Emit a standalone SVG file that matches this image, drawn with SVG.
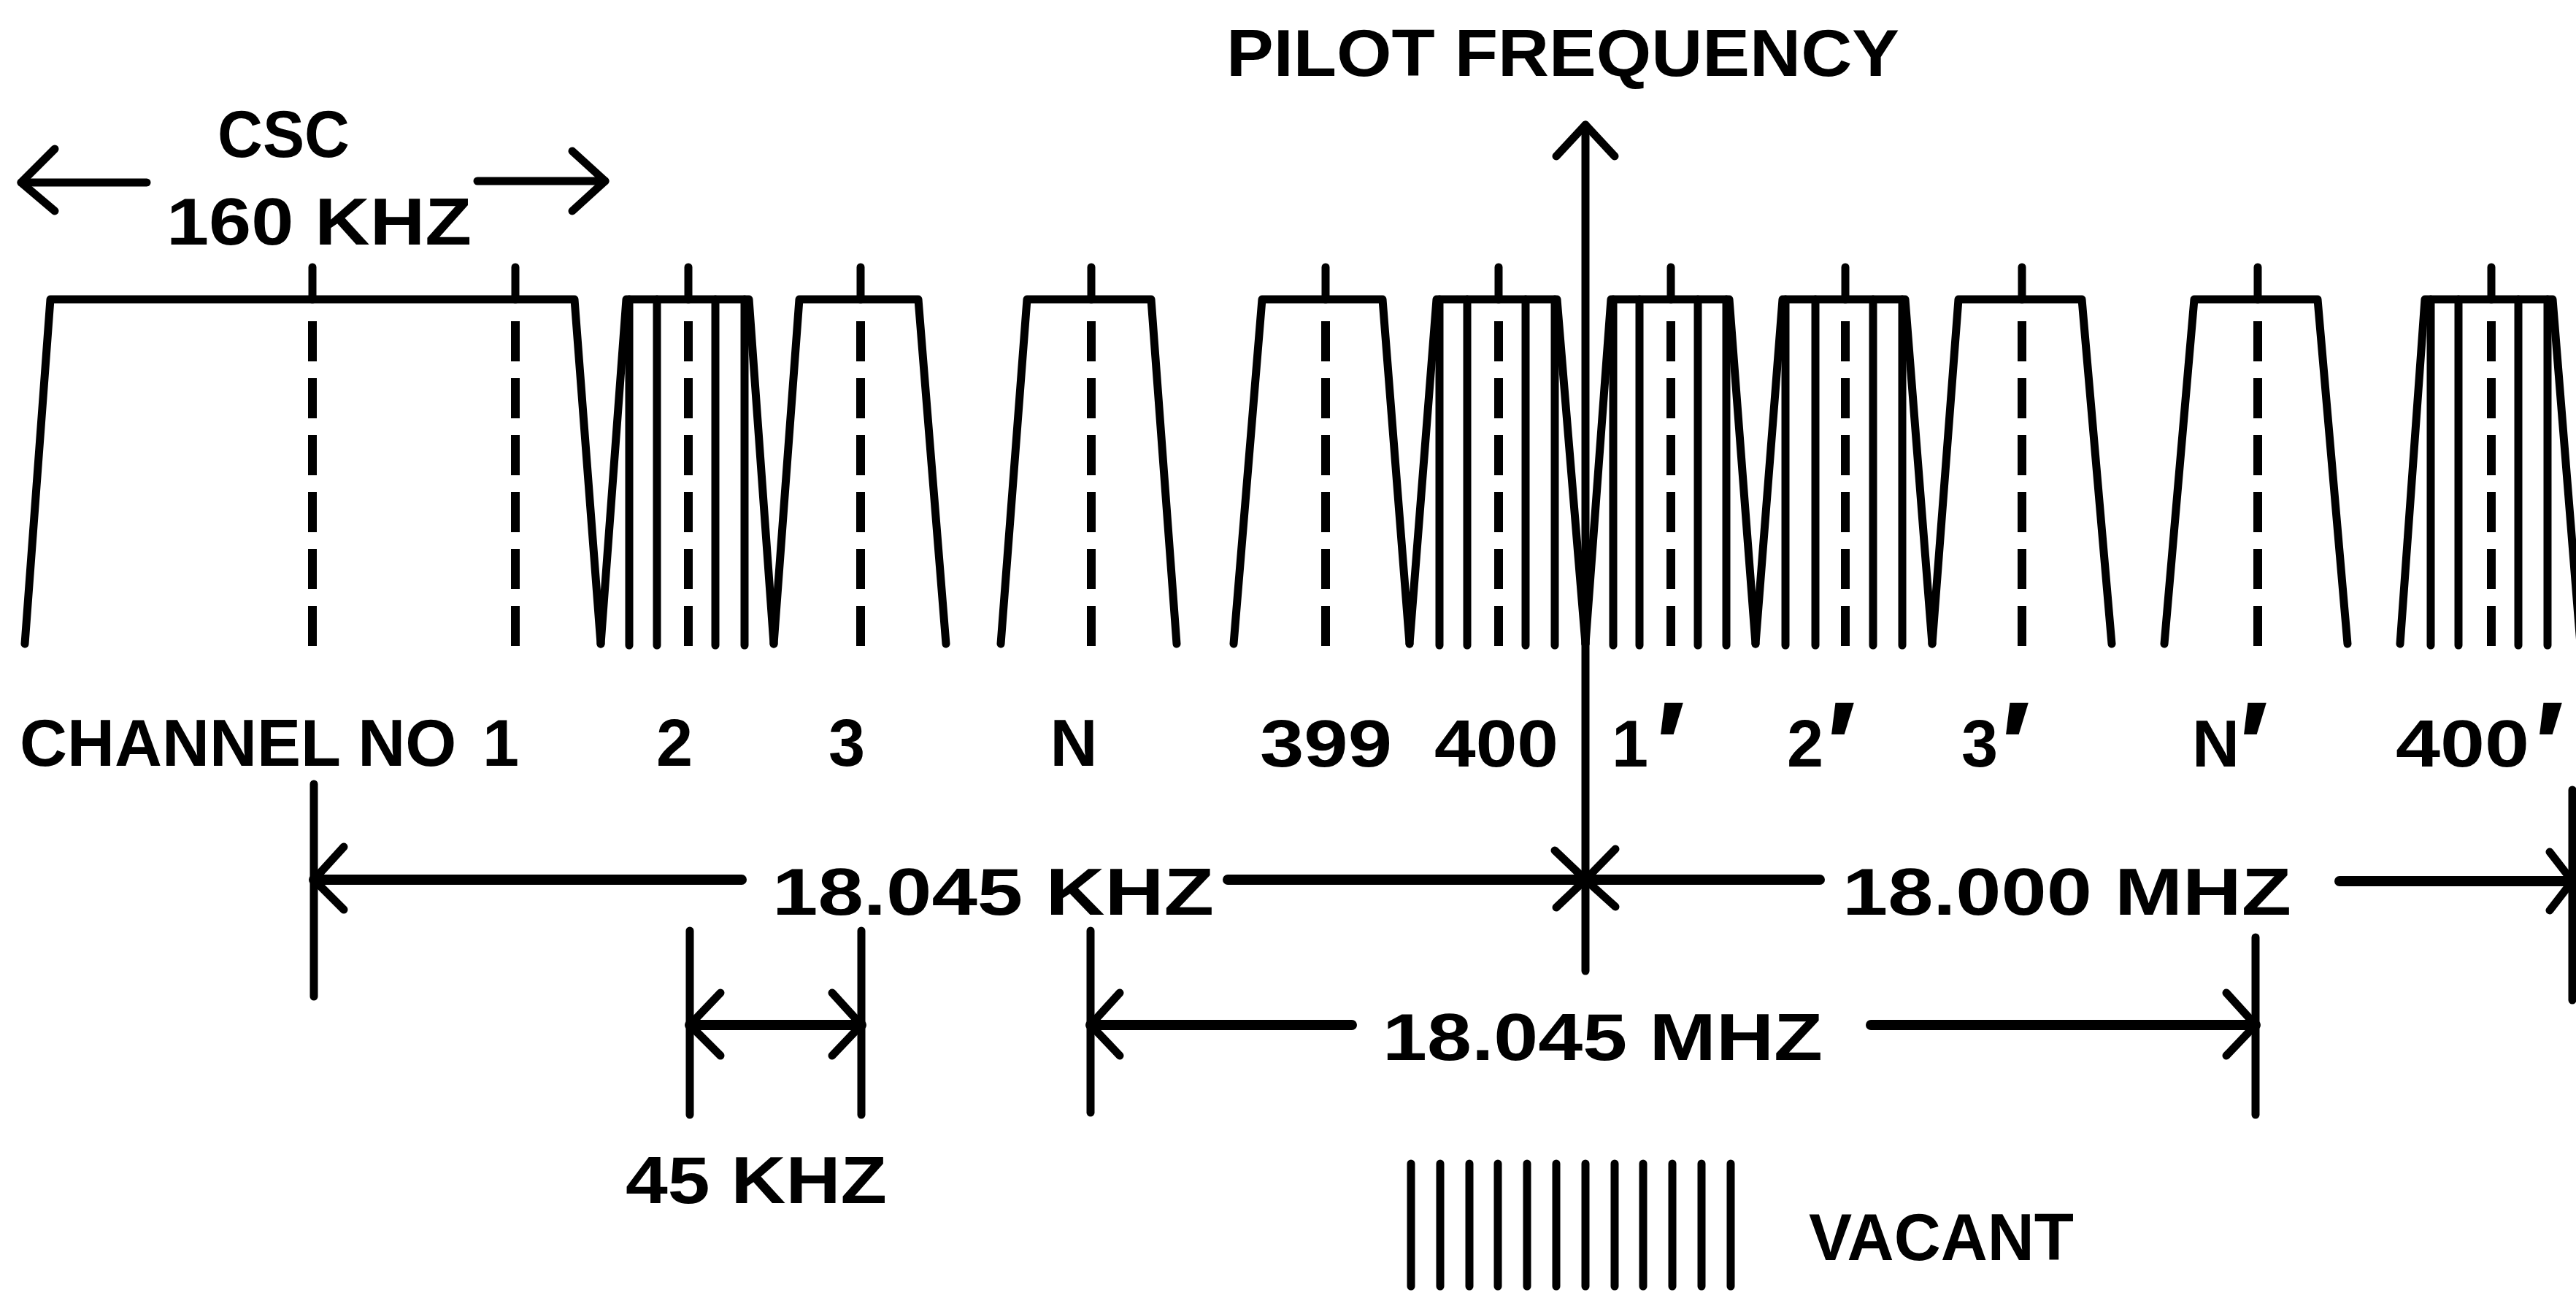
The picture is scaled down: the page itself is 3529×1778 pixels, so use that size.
<svg xmlns="http://www.w3.org/2000/svg" width="3529" height="1778" viewBox="0 0 3529 1778">
<style>
.ln{fill:none;stroke:#000;stroke-width:11;stroke-linecap:round;stroke-linejoin:round}
.dim{fill:none;stroke:#000;stroke-width:14;stroke-linecap:round;stroke-linejoin:round}
.dash{fill:none;stroke:#000;stroke-width:12;stroke-dasharray:55 23}
.t{font-family:"Liberation Sans",Arial,sans-serif;font-weight:bold;font-size:90px;fill:#000}
.pr{font-size:170px}
</style>
<defs>
<g id="cl"><line class="ln" x1="0" y1="366" x2="0" y2="410"/><line class="dash" x1="0" y1="440" x2="0" y2="890"/></g>
</defs>
<rect width="3529" height="1778" fill="#fff"/>

<text class="t" x="1680" y="104" textLength="922" lengthAdjust="spacingAndGlyphs">PILOT FREQUENCY</text>

<g id="csc">
<text class="t" x="298" y="215" textLength="181" lengthAdjust="spacingAndGlyphs">CSC</text>
<text class="t" x="228" y="335" textLength="418" lengthAdjust="spacingAndGlyphs">160 KHZ</text>
<line class="ln" x1="29" y1="250" x2="201" y2="250"/><polyline class="ln" points="75,204 29,250 75,289"/>
<line class="ln" x1="654" y1="248" x2="829" y2="248"/><polyline class="ln" points="784,207 829,248 784,289"/>
<polyline class="ln" points="34,882 69,410 787,410 823,882"/>
<use href="#cl" x="428"/><use href="#cl" x="706"/>
</g>
<g id="ch2"><polyline class="ln" points="823,882 858,410 1026,410 1060,882"/>
<path class="ln" d="M862,410V884M900,410V884M980,410V884M1020,410V884"/><use href="#cl" x="943"/></g>
<g id="ch3"><polyline class="ln" points="1060,882 1095,410 1258,410 1296,882"/><use href="#cl" x="1179"/></g>
<g id="chN"><polyline class="ln" points="1371,882 1407,410 1577,410 1612,882"/><use href="#cl" x="1495"/></g>
<g id="ch399"><polyline class="ln" points="1690,882 1729,410 1894,410 1931,882"/><use href="#cl" x="1816"/></g>
<g id="ch400"><polyline class="ln" points="1931,882 1968,410 2133,410 2172,882"/>
<path class="ln" d="M1972,410V884M2010,410V884M2090,410V884M2130,410V884"/><use href="#cl" x="2053"/></g>
<g id="ch1p"><polyline class="ln" points="2172,882 2207,410 2369,410 2405,882"/>
<path class="ln" d="M2210,410V884M2246,410V884M2326,410V884M2365,410V884"/><use href="#cl" x="2289"/></g>
<g id="ch2p"><polyline class="ln" points="2405,882 2442,410 2610,410 2647,882"/>
<path class="ln" d="M2446,410V884M2487,410V884M2566,410V884M2606,410V884"/><use href="#cl" x="2528"/></g>
<g id="ch3p"><polyline class="ln" points="2647,882 2683,410 2852,410 2893,882"/><use href="#cl" x="2770"/></g>
<g id="chNp"><polyline class="ln" points="2965,882 3006,410 3175,410 3216,882"/><use href="#cl" x="3093"/></g>
<g id="ch400p"><polyline class="ln" points="3288,882 3322,410 3497,410 3535,882"/>
<path class="ln" d="M3330,410V884M3368,410V884M3450,410V884M3490,410V884"/><use href="#cl" x="3413"/></g>

<g id="labels">
<text class="t" x="27" y="1049">CHANNEL NO</text>
<text class="t" x="686" y="1049" text-anchor="middle">1</text>
<text class="t" x="924" y="1049" text-anchor="middle">2</text>
<text class="t" x="1160" y="1049" text-anchor="middle">3</text>
<text class="t" x="1471" y="1049" text-anchor="middle">N</text>
<text class="t" x="1726" y="1050" textLength="181" lengthAdjust="spacingAndGlyphs">399</text>
<text class="t" x="1965" y="1050" textLength="170" lengthAdjust="spacingAndGlyphs">400</text>
<text class="t" y="1050"><tspan x="2208">1</tspan><tspan class="pr" x="2268" y="1080">′</tspan></text>
<text class="t" y="1050"><tspan x="2448">2</tspan><tspan class="pr" x="2502" y="1080">′</tspan></text>
<text class="t" y="1050"><tspan x="2687">3</tspan><tspan class="pr" x="2741" y="1080">′</tspan></text>
<text class="t" y="1050"><tspan x="3003">N</tspan><tspan class="pr" x="3067" y="1080">′</tspan></text>
<text class="t" y="1050"><tspan x="3282" textLength="183" lengthAdjust="spacingAndGlyphs">400</tspan><tspan class="pr" x="3472" y="1080">′</tspan></text>
</g>

<g id="pilot">
<line class="ln" x1="2172" y1="171" x2="2172" y2="1330"/>
<polyline class="ln" points="2132,214 2172,171 2212,214"/>
</g>

<g id="connectors">
<line class="ln" x1="430" y1="1074" x2="430" y2="1365"/>
<line class="dim" x1="430" y1="1205" x2="1016" y2="1205"/>
<polyline class="ln" points="471,1160 430,1205 471,1246"/>
<text class="t" x="1058" y="1253" textLength="605" lengthAdjust="spacingAndGlyphs">18.045 KHZ</text>
<line class="dim" x1="1682" y1="1205" x2="2493" y2="1205"/>
<polyline class="ln" points="2130,1165 2172,1205 2132,1243"/>
<polyline class="ln" points="2213,1163 2172,1205 2213,1242"/>
<text class="t" x="2524" y="1253" textLength="615" lengthAdjust="spacingAndGlyphs">18.000 MHZ</text>
<line class="dim" x1="3205" y1="1207" x2="3524" y2="1207"/>
<polyline class="ln" points="3493,1167 3524,1207 3493,1247"/>
<line class="ln" x1="3524" y1="1082" x2="3524" y2="1370"/>

<line class="ln" x1="945" y1="1275" x2="945" y2="1527"/>
<line class="ln" x1="1180" y1="1275" x2="1180" y2="1527"/>
<line class="dim" x1="945" y1="1404" x2="1180" y2="1404"/>
<polyline class="ln" points="987,1360 945,1404 987,1446"/>
<polyline class="ln" points="1140,1360 1180,1404 1140,1446"/>
<text class="t" x="857" y="1648" textLength="358" lengthAdjust="spacingAndGlyphs">45 KHZ</text>

<line class="ln" x1="1494" y1="1275" x2="1494" y2="1524"/>
<line class="dim" x1="1494" y1="1404" x2="1852" y2="1404"/>
<polyline class="ln" points="1534,1360 1494,1404 1534,1446"/>
<text class="t" x="1894" y="1452" textLength="603" lengthAdjust="spacingAndGlyphs">18.045 MHZ</text>
<line class="dim" x1="2563" y1="1404" x2="3090" y2="1404"/>
<polyline class="ln" points="3050,1360 3090,1404 3050,1446"/>
<line class="ln" x1="3090" y1="1284" x2="3090" y2="1527"/>
</g>

<g id="legend">
<path class="ln" d="M1933,1594V1762M1973,1594V1762M2013,1594V1762M2052,1594V1762M2092,1594V1762M2132,1594V1762M2172,1594V1762M2212,1594V1762M2251,1594V1762M2291,1594V1762M2331,1594V1762M2371,1594V1762"/>
<text class="t" x="2478" y="1726" textLength="363" lengthAdjust="spacingAndGlyphs">VACANT</text>
</g>
</svg>
